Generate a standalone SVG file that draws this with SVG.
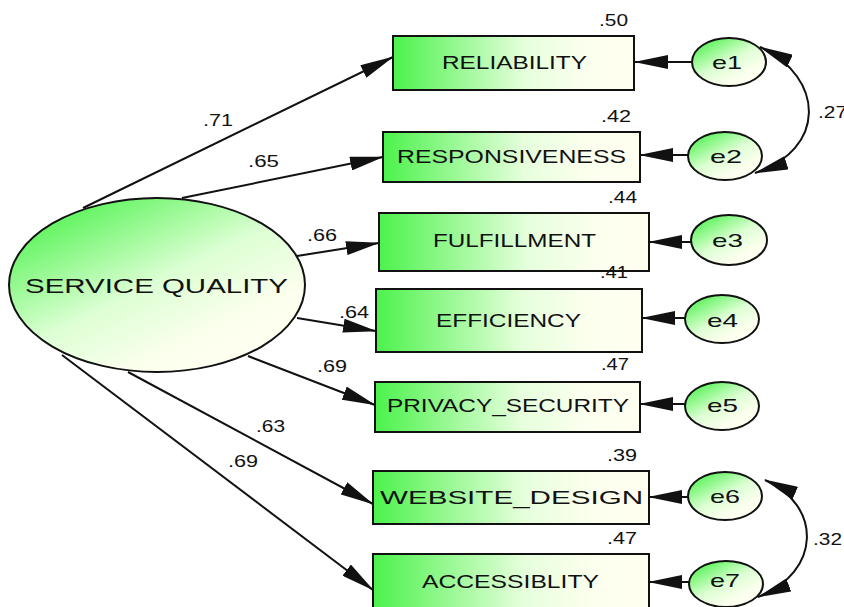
<svg xmlns="http://www.w3.org/2000/svg" width="844" height="607" viewBox="0 0 844 607">
<style>
text{font-family:"Liberation Sans",Arial,sans-serif;fill:#111}
.box{stroke:#111;stroke-width:2;fill:url(#gRect)}
.lat{stroke:#111;stroke-width:2;fill:url(#gDiag)}
.err{stroke:#111;stroke-width:2;fill:url(#gDiag)}
.lbl{font-size:19px}
.num{font-size:16px}
.ln{stroke:#111;stroke-width:2;fill:none;marker-end:url(#ah)}
.cov{stroke:#111;stroke-width:2;fill:none;marker-start:url(#ah);marker-end:url(#ah)}
</style>
<defs>
<linearGradient id="gRect" x1="0" y1="0" x2="1" y2="0">
<stop offset="0" stop-color="#4CF24C"/>
<stop offset="0.55" stop-color="#E6FFDC"/>
<stop offset="0.8" stop-color="#FCFFEE"/>
<stop offset="1" stop-color="#FFFFF0"/>
</linearGradient>
<linearGradient id="gDiag" x1="0.1" y1="0.05" x2="0.85" y2="0.95">
<stop offset="0" stop-color="#4CF24C"/>
<stop offset="0.5" stop-color="#DDFFD4"/>
<stop offset="0.8" stop-color="#FCFFEE"/>
<stop offset="1" stop-color="#FFFFF0"/>
</linearGradient>
<marker id="ah" markerUnits="userSpaceOnUse" markerWidth="34" markerHeight="14" refX="33" refY="7" orient="auto-start-reverse">
<path d="M0,0 L34,7 L0,14 Z" fill="#111"/>
</marker>
</defs>
<rect width="844" height="607" fill="#fff"/>

<g id="connectors">
<line class="ln" x1="83" y1="208" x2="393" y2="57"/>
<line class="ln" x1="182" y1="198" x2="383" y2="157"/>
<line class="ln" x1="297" y1="256" x2="379" y2="243"/>
<line class="ln" x1="297" y1="318" x2="376" y2="331"/>
<line class="ln" x1="248" y1="356" x2="375" y2="405"/>
<line class="ln" x1="128" y1="372" x2="373" y2="504"/>
<line class="ln" x1="62" y1="355" x2="373" y2="590"/>
<line class="ln" x1="692" y1="62" x2="635" y2="62"/>
<line class="ln" x1="688" y1="155" x2="640" y2="155"/>
<line class="ln" x1="691" y1="242" x2="649" y2="242"/>
<line class="ln" x1="685" y1="318" x2="642" y2="318"/>
<line class="ln" x1="685" y1="404" x2="640" y2="404"/>
<line class="ln" x1="688" y1="497" x2="649" y2="497"/>
<line class="ln" x1="689" y1="582" x2="649" y2="582"/>
<path class="cov" d="M760,47 C826,78 826,150 755,173"/>
<path class="cov" d="M765,480 C822,505 822,572 758,597"/>
<text class="num" x="203" y="126" textLength="30" lengthAdjust="spacingAndGlyphs">.71</text>
<text class="num" x="248" y="167" textLength="31" lengthAdjust="spacingAndGlyphs">.65</text>
<text class="num" x="307" y="241" textLength="30" lengthAdjust="spacingAndGlyphs">.66</text>
<text class="num" x="339" y="318" textLength="30" lengthAdjust="spacingAndGlyphs">.64</text>
<text class="num" x="317" y="372" textLength="30" lengthAdjust="spacingAndGlyphs">.69</text>
<text class="num" x="256" y="432" textLength="29" lengthAdjust="spacingAndGlyphs">.63</text>
<text class="num" x="228" y="467" textLength="30" lengthAdjust="spacingAndGlyphs">.69</text>
<text class="num" x="818" y="118" textLength="29" lengthAdjust="spacingAndGlyphs">.27</text>
<text class="num" x="813" y="545" textLength="29" lengthAdjust="spacingAndGlyphs">.32</text>
</g>

<g id="service_quality">
<ellipse class="lat" cx="157" cy="285" rx="148" ry="87"/>
<text x="25" y="293" font-size="21" textLength="263" lengthAdjust="spacingAndGlyphs">SERVICE QUALITY</text>
</g>

<g id="reliability">
<rect class="box" x="393" y="36" width="241" height="54"/>
<text class="lbl" x="442" y="69" textLength="145" lengthAdjust="spacingAndGlyphs">RELIABILITY</text>
<text class="num" x="599" y="26" textLength="29" lengthAdjust="spacingAndGlyphs">.50</text>
</g>
<g id="responsiveness">
<rect class="box" x="383" y="132" width="257" height="50"/>
<text class="lbl" x="397" y="163" textLength="229" lengthAdjust="spacingAndGlyphs">RESPONSIVENESS</text>
<text class="num" x="601" y="122" textLength="30" lengthAdjust="spacingAndGlyphs">.42</text>
</g>
<g id="fulfillment">
<rect class="box" x="379" y="213" width="270" height="58"/>
<text class="lbl" x="433" y="247" font-size="20" textLength="163" lengthAdjust="spacingAndGlyphs">FULFILLMENT</text>
<text class="num" x="608" y="203" textLength="29" lengthAdjust="spacingAndGlyphs">.44</text>
</g>
<g id="efficiency">
<rect class="box" x="376" y="289" width="266" height="63"/>
<text class="lbl" x="436" y="327" textLength="145" lengthAdjust="spacingAndGlyphs">EFFICIENCY</text>
<text class="num" x="600" y="278" textLength="28" lengthAdjust="spacingAndGlyphs">.41</text>
</g>
<g id="privacy_security">
<rect class="box" x="375" y="382" width="265" height="50"/>
<text class="lbl" x="387" y="412" font-size="20" textLength="242" lengthAdjust="spacingAndGlyphs">PRIVACY_SECURITY</text>
<text class="num" x="601" y="370" textLength="28" lengthAdjust="spacingAndGlyphs">.47</text>
</g>
<g id="website_design">
<rect class="box" x="373" y="471" width="276" height="53"/>
<text class="lbl" x="380" y="504" font-size="21" textLength="263" lengthAdjust="spacingAndGlyphs">WEBSITE_DESIGN</text>
<text class="num" x="607" y="461" textLength="30" lengthAdjust="spacingAndGlyphs">.39</text>
</g>
<g id="accessiblity">
<rect class="box" x="373" y="554" width="276" height="60"/>
<text class="lbl" x="422" y="588" font-size="18" textLength="177" lengthAdjust="spacingAndGlyphs">ACCESSIBLITY</text>
<text class="num" x="607" y="544" textLength="30" lengthAdjust="spacingAndGlyphs">.47</text>
</g>

<g id="e1"><ellipse class="err" cx="729" cy="62" rx="37" ry="24"/><text class="lbl" x="712" y="69" textLength="30" lengthAdjust="spacingAndGlyphs">e1</text></g>
<g id="e2"><ellipse class="err" cx="725" cy="156" rx="37" ry="24"/><text class="lbl" x="710" y="163" textLength="32" lengthAdjust="spacingAndGlyphs">e2</text></g>
<g id="e3"><ellipse class="err" cx="729" cy="240" rx="38" ry="25"/><text class="lbl" x="712" y="247" textLength="31" lengthAdjust="spacingAndGlyphs">e3</text></g>
<g id="e4"><ellipse class="err" cx="722" cy="319" rx="37" ry="24"/><text class="lbl" x="707" y="327" textLength="31" lengthAdjust="spacingAndGlyphs">e4</text></g>
<g id="e5"><ellipse class="err" cx="722" cy="406" rx="37" ry="24"/><text class="lbl" x="707" y="412" textLength="31" lengthAdjust="spacingAndGlyphs">e5</text></g>
<g id="e6"><ellipse class="err" cx="725" cy="496" rx="37" ry="24"/><text class="lbl" x="710" y="503" textLength="30" lengthAdjust="spacingAndGlyphs">e6</text></g>
<g id="e7"><ellipse class="err" cx="726" cy="584" rx="37" ry="23"/><text class="lbl" x="710" y="587" textLength="30" lengthAdjust="spacingAndGlyphs">e7</text></g>
</svg>
